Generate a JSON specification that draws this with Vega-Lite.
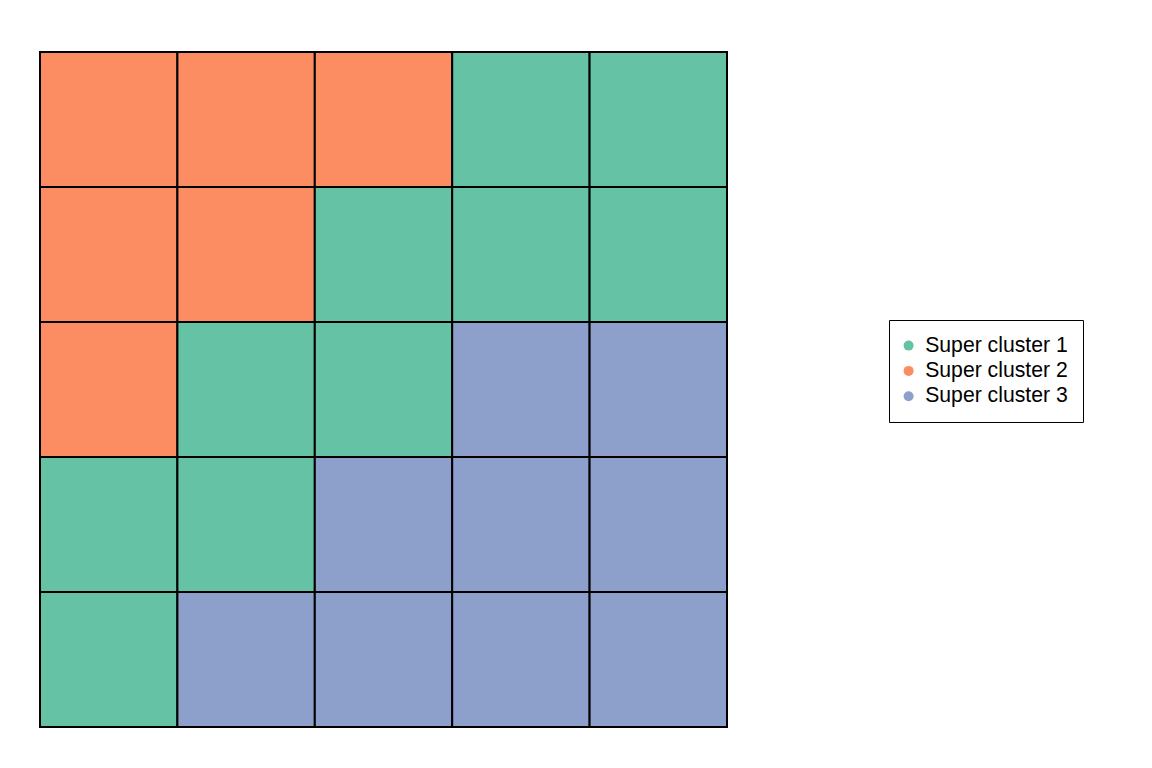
{
  "$schema": "https://vega.github.io/schema/vega-lite/v6.json",
  "autosize": "none",
  "width": 687,
  "height": 675,
  "padding": {"left": 40, "top": 52, "right": 425, "bottom": 41},
  "background": "white",
  "config": {"view": {"stroke": null}},
  "data": {
    "values": [
      {"row": 1, "col": 1, "cluster": "Super cluster 2"},
      {"row": 1, "col": 2, "cluster": "Super cluster 2"},
      {"row": 1, "col": 3, "cluster": "Super cluster 2"},
      {"row": 1, "col": 4, "cluster": "Super cluster 1"},
      {"row": 1, "col": 5, "cluster": "Super cluster 1"},
      {"row": 2, "col": 1, "cluster": "Super cluster 2"},
      {"row": 2, "col": 2, "cluster": "Super cluster 2"},
      {"row": 2, "col": 3, "cluster": "Super cluster 1"},
      {"row": 2, "col": 4, "cluster": "Super cluster 1"},
      {"row": 2, "col": 5, "cluster": "Super cluster 1"},
      {"row": 3, "col": 1, "cluster": "Super cluster 2"},
      {"row": 3, "col": 2, "cluster": "Super cluster 1"},
      {"row": 3, "col": 3, "cluster": "Super cluster 1"},
      {"row": 3, "col": 4, "cluster": "Super cluster 3"},
      {"row": 3, "col": 5, "cluster": "Super cluster 3"},
      {"row": 4, "col": 1, "cluster": "Super cluster 1"},
      {"row": 4, "col": 2, "cluster": "Super cluster 1"},
      {"row": 4, "col": 3, "cluster": "Super cluster 3"},
      {"row": 4, "col": 4, "cluster": "Super cluster 3"},
      {"row": 4, "col": 5, "cluster": "Super cluster 3"},
      {"row": 5, "col": 1, "cluster": "Super cluster 1"},
      {"row": 5, "col": 2, "cluster": "Super cluster 3"},
      {"row": 5, "col": 3, "cluster": "Super cluster 3"},
      {"row": 5, "col": 4, "cluster": "Super cluster 3"},
      {"row": 5, "col": 5, "cluster": "Super cluster 3"}
    ]
  },
  "mark": {"type": "rect", "stroke": "black", "strokeWidth": 2},
  "encoding": {
    "x": {"field": "col", "type": "ordinal", "axis": null, "scale": {"paddingInner": 0, "paddingOuter": 0}},
    "y": {"field": "row", "type": "ordinal", "axis": null, "scale": {"paddingInner": 0, "paddingOuter": 0}},
    "color": {
      "field": "cluster",
      "type": "nominal",
      "scale": {"domain": ["Super cluster 1", "Super cluster 2", "Super cluster 3"], "range": ["#66c2a5", "#fc8d62", "#8da0cb"]},
      "legend": {
        "title": null,
        "orient": "none",
        "legendX": 849,
        "legendY": 268,
        "symbolType": "circle",
        "symbolSize": 100,
        "symbolStrokeWidth": 0,
        "symbolOffset": -6,
        "labelFont": "Liberation Sans",
        "labelFontSize": 21.2,
        "labelColor": "black",
        "labelOffset": 6,
        "rowPadding": 3.3,
        "padding": 15,
        "strokeColor": "black",
        "fillColor": "white",
        "cornerRadius": 0,
        "encode": {"legend": {"update": {"strokeWidth": {"value": 1.5}}}}
      }
    }
  }
}
